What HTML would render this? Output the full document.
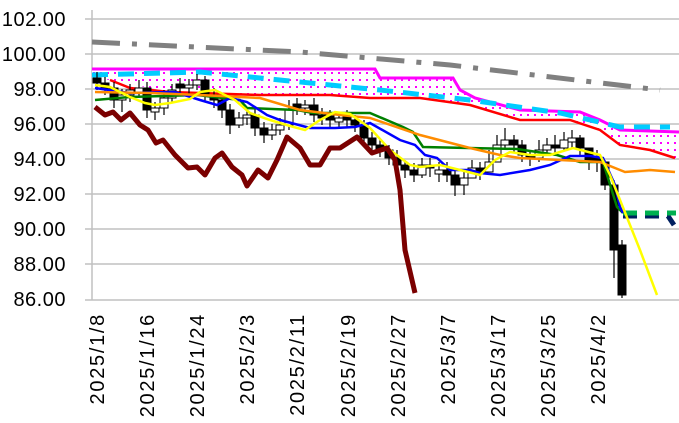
<!DOCTYPE html>
<html><head><meta charset="utf-8"><style>
html,body{margin:0;padding:0;background:#fff;}
svg{display:block;font-family:"Liberation Sans",sans-serif;}
</style></head><body>
<svg width="679" height="423" viewBox="0 0 679 423">
<defs>
<pattern id="dots" width="7" height="7" patternUnits="userSpaceOnUse">
<rect width="7" height="7" fill="#fff"/><rect x="2" y="2" width="2" height="2" fill="#ff00ff"/>
</pattern>
</defs>
<g stroke="#c0c0c0" stroke-width="1.5">
<line x1="85" y1="19" x2="679" y2="19"/><line x1="85" y1="54" x2="679" y2="54"/>
<line x1="85" y1="89" x2="679" y2="89"/><line x1="85" y1="124" x2="679" y2="124"/>
<line x1="85" y1="159" x2="679" y2="159"/><line x1="85" y1="194" x2="679" y2="194"/>
<line x1="85" y1="229" x2="679" y2="229"/><line x1="85" y1="264" x2="679" y2="264"/>
<line x1="85" y1="300" x2="679" y2="300"/><line x1="92" y1="10" x2="92" y2="300"/>
</g>
<g font-size="20" text-anchor="end" fill="#000" letter-spacing="0.5">
<text x="66" y="26">102.00</text><text x="66" y="61">100.00</text><text x="66" y="96">98.00</text>
<text x="66" y="131">96.00</text><text x="66" y="166">94.00</text><text x="66" y="201">92.00</text>
<text x="66" y="236">90.00</text><text x="66" y="271">88.00</text><text x="66" y="306">86.00</text>
</g>
<g font-size="20" text-anchor="end" fill="#000" letter-spacing="1.7">
<text transform="translate(104,313) rotate(-90)">2025/1/8</text>
<text transform="translate(154,313) rotate(-90)">2025/1/16</text>
<text transform="translate(204,313) rotate(-90)">2025/1/24</text>
<text transform="translate(254,313) rotate(-90)">2025/2/3</text>
<text transform="translate(304,313) rotate(-90)">2025/2/11</text>
<text transform="translate(355,313) rotate(-90)">2025/2/19</text>
<text transform="translate(405,313) rotate(-90)">2025/2/27</text>
<text transform="translate(455,313) rotate(-90)">2025/3/7</text>
<text transform="translate(505,313) rotate(-90)">2025/3/17</text>
<text transform="translate(555,313) rotate(-90)">2025/3/25</text>
<text transform="translate(605,313) rotate(-90)">2025/4/2</text>
</g>
<polygon fill="url(#dots)" points="92,69 375,69 380,78 453,78 460,90 475,98 520,110 580,112 600,120 620,130 679,132 679,158 675,158 650,150 620,145 600,130 570,120 520,120 470,105 420,98 370,98 330,95 260,95 170,92 110,80 92,78"/>
<polyline fill="none" stroke="#ff00ff" stroke-width="3" points="92,69 375,69 380,78 453,78 460,90 475,98 520,110 580,112 600,120 620,130 679,132"/>
<polyline fill="none" stroke="#ff0000" stroke-width="2.5" points="110,80 130,88 170,92 260,95 330,95 370,98 420,98 470,105 520,120 570,120 600,130 620,145 650,150 675,158"/>
<polyline fill="none" stroke="#808080" stroke-width="5" stroke-dasharray="28,12,5,12" points="92,42 300,52 450,65 660,90"/>
<polyline fill="none" stroke="#00ccff" stroke-width="5" stroke-dasharray="16,10" points="92,75 200,72 380,90 470,100 560,113 620,127 670,127"/>
<path stroke="#000" stroke-width="1.2" fill="none" d="M97 72V90M105 77V95M114 82V108M122 89V112M130 84V102M139 80V97M147 82V118M155 102V120M164 90V115M172 84V103M180 78V95M189 79V95M197 74V90M205 76V102M214 88V108M222 94V118M230 104V134M239 112V128M247 108V125M255 109V136M264 122V143M272 124V140M280 118V135M289 100V130M297 98V115M305 100V115M314 98V122M322 108V125M330 110V128M339 112V128M347 110V127M355 115V132M364 120V145M372 132V152M380 140V157M389 145V165M397 150V175M405 160V178M414 163V182M422 158V178M430 158V177M439 162V182M447 162V182M455 170V196M464 172V195M472 160V178M480 162V180M489 150V172M497 135V155M505 128V150M514 135V152M522 140V162M530 150V166M539 140V162M547 138V155M555 135V155M564 132V150M572 130V148M580 135V155M589 150V170M597 150V172M605 160V190M614 180V278M622 240V298"/>
<g stroke="#000" stroke-width="1">
<rect x="93" y="78" width="8" height="5" fill="#000"/>
<rect x="101" y="83" width="8" height="5" fill="#000"/>
<rect x="110" y="88" width="8" height="12" fill="#000"/>
<rect x="118" y="95" width="8" height="5" fill="#fff"/>
<rect x="126" y="90" width="8" height="5" fill="#fff"/>
<rect x="135" y="88" width="8" height="4" fill="#fff"/>
<rect x="143" y="88" width="8" height="22" fill="#000"/>
<rect x="151" y="108" width="8" height="4" fill="#fff"/>
<rect x="160" y="98" width="8" height="10" fill="#fff"/>
<rect x="168" y="90" width="8" height="8" fill="#fff"/>
<rect x="176" y="84" width="8" height="4" fill="#000"/>
<rect x="185" y="85" width="8" height="3" fill="#fff"/>
<rect x="193" y="80" width="8" height="5" fill="#fff"/>
<rect x="201" y="80" width="8" height="15" fill="#000"/>
<rect x="210" y="95" width="8" height="5" fill="#000"/>
<rect x="218" y="100" width="8" height="10" fill="#000"/>
<rect x="226" y="110" width="8" height="15" fill="#000"/>
<rect x="235" y="118" width="8" height="7" fill="#fff"/>
<rect x="243" y="115" width="8" height="3" fill="#fff"/>
<rect x="251" y="115" width="8" height="13" fill="#000"/>
<rect x="260" y="128" width="8" height="7" fill="#000"/>
<rect x="268" y="130" width="8" height="5" fill="#fff"/>
<rect x="276" y="125" width="8" height="5" fill="#fff"/>
<rect x="285" y="110" width="8" height="15" fill="#fff"/>
<rect x="293" y="104" width="8" height="4" fill="#000"/>
<rect x="301" y="105" width="8" height="3" fill="#fff"/>
<rect x="310" y="105" width="8" height="10" fill="#000"/>
<rect x="318" y="115" width="8" height="3" fill="#000"/>
<rect x="326" y="116" width="8" height="4" fill="#000"/>
<rect x="335" y="118" width="8" height="4" fill="#fff"/>
<rect x="343" y="116" width="8" height="4" fill="#000"/>
<rect x="351" y="120" width="8" height="5" fill="#000"/>
<rect x="360" y="125" width="8" height="13" fill="#000"/>
<rect x="368" y="138" width="8" height="7" fill="#000"/>
<rect x="376" y="145" width="8" height="5" fill="#000"/>
<rect x="385" y="150" width="8" height="8" fill="#000"/>
<rect x="393" y="158" width="8" height="7" fill="#000"/>
<rect x="401" y="165" width="8" height="5" fill="#000"/>
<rect x="410" y="170" width="8" height="5" fill="#000"/>
<rect x="418" y="165" width="8" height="10" fill="#fff"/>
<rect x="426" y="165" width="8" height="3" fill="#000"/>
<rect x="435" y="170" width="8" height="4" fill="#fff"/>
<rect x="443" y="170" width="8" height="5" fill="#000"/>
<rect x="451" y="175" width="8" height="10" fill="#000"/>
<rect x="460" y="178" width="8" height="7" fill="#fff"/>
<rect x="468" y="168" width="8" height="10" fill="#fff"/>
<rect x="476" y="168" width="8" height="4" fill="#000"/>
<rect x="485" y="162" width="8" height="10" fill="#fff"/>
<rect x="493" y="145" width="8" height="17" fill="#fff"/>
<rect x="501" y="140" width="8" height="5" fill="#fff"/>
<rect x="510" y="140" width="8" height="5" fill="#000"/>
<rect x="518" y="145" width="8" height="10" fill="#000"/>
<rect x="526" y="155" width="8" height="3" fill="#000"/>
<rect x="535" y="150" width="8" height="8" fill="#fff"/>
<rect x="543" y="145" width="8" height="5" fill="#fff"/>
<rect x="551" y="145" width="8" height="3" fill="#000"/>
<rect x="560" y="140" width="8" height="8" fill="#fff"/>
<rect x="568" y="138" width="8" height="4" fill="#fff"/>
<rect x="576" y="138" width="8" height="10" fill="#000"/>
<rect x="585" y="148" width="8" height="12" fill="#000"/>
<rect x="593" y="158" width="8" height="4" fill="#000"/>
<rect x="601" y="162" width="8" height="23" fill="#000"/>
<rect x="610" y="185" width="8" height="65" fill="#000"/>
<rect x="618" y="245" width="8" height="50" fill="#000"/>
</g>
<polyline fill="none" stroke="#008000" stroke-width="2.5" points="95,100 130,97 197,95 240,100 247,108 297,110 313,113 370,113 403,127 413,132 423,147 517,149 557,155 580,162 603,162 617,207 623,213"/>
<polyline fill="none" stroke="#002060" stroke-width="5" stroke-dasharray="14,8" points="623,216 668,216 674,225"/>
<polyline fill="none" stroke="#00b050" stroke-width="5" stroke-dasharray="14,8" points="623,213 676,213"/>
<polyline fill="none" stroke="#0000ff" stroke-width="2.5" points="95,88 130,93 175,92 200,100 217,105 230,98 247,102 267,115 280,120 310,128 335,128 355,127 370,123 400,140 415,145 425,155 437,158 450,170 470,170 480,173 500,175 530,170 550,165 570,156 590,156 603,158 615,185 620,207 623,213"/>
<polyline fill="none" stroke="#ff8c00" stroke-width="2.5" points="95,92 150,93 200,95 260,98 300,110 340,115 370,118 420,135 470,148 500,155 520,158 560,160 600,162 625,172 650,170 675,172"/>
<polyline fill="none" stroke="#ffff00" stroke-width="2.5" points="95,85 110,87 130,97 145,103 155,105 170,103 190,99 200,92 215,90 235,100 250,113 270,120 290,126 305,130 320,120 335,112 350,114 370,128 390,150 410,165 420,167 440,165 460,170 480,175 495,160 510,152 530,155 550,155 573,148 600,155 610,175 620,200 640,250 657,295"/>
<polyline fill="none" stroke="#7b0000" stroke-width="5" stroke-linejoin="round" points="95,107 105,115 113,112 121,120 130,113 140,125 148,130 156,143 163,140 175,155 188,168 197,167 205,175 215,158 222,153 232,167 242,175 247,186 258,170 268,178 277,160 287,137 300,148 310,165 320,165 330,148 340,148 357,137 372,153 387,148 395,160 400,190 405,250 415,293"/>
</svg>
</body></html>
